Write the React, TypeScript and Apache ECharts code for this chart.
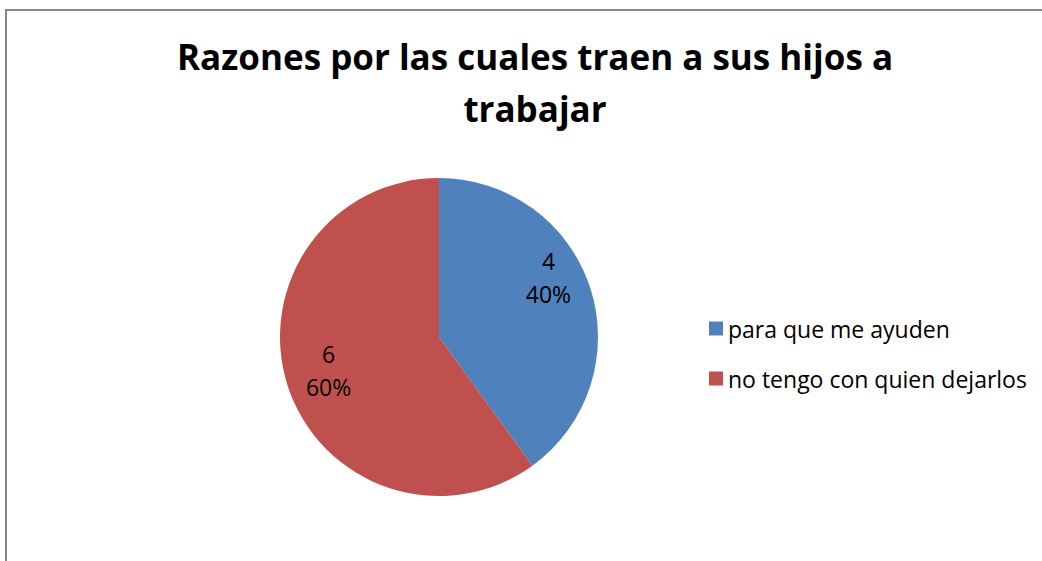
import React, { useEffect, useRef } from "react";
import * as echarts from "echarts";

const titleText = "Razones por las cuales traen a sus hijos a\ntrabajar";
const categories = ["para que me ayuden", "no tengo con quien dejarlos"];
const values = [4, 6];
const colors = ["#4F81BD", "#C0504D"];
const labelShift = [
  [31, -34],
  [-32, 8],
];

export default function App() {
  const ref = useRef<HTMLDivElement>(null);
  useEffect(() => {
    if (!ref.current) return;
    const chart = echarts.init(ref.current, null, { renderer: "svg" });
    chart.setOption({
      animation: false,
      backgroundColor: "#ffffff",
      title: {
        text: titleText,
        left: 530,
        top: 25,
        textAlign: "center",
        textStyle: {
          fontFamily: "Open Sans",
          fontWeight: "bold",
          fontSize: 35,
          lineHeight: 52,
          color: "#000000",
        },
      },
      legend: {
        orient: "vertical",
        left: 704,
        top: 312,
        itemWidth: 14,
        itemHeight: 14,
        itemGap: 27,
        icon: "rect",
        data: categories,
        textStyle: { fontFamily: "Open Sans", fontSize: 23, color: "#000000" },
      },
      graphic: [
        {
          type: "polyline",
          shape: { points: [[6, 561], [6, 10], [1042, 10]] },
          style: { stroke: "#878787", lineWidth: 2, fill: "none" },
          silent: true,
        },
      ],
      series: [
        {
          type: "pie",
          center: [439, 337],
          radius: [0, 159],
          startAngle: 90,
          clockwise: true,
          data: categories.map((n, i) => ({
            name: n,
            value: values[i],
            itemStyle: { color: colors[i] },
          })),
          label: {
            show: true,
            position: "inside",
            formatter: "{c}\n{d}%",
            fontFamily: "Open Sans",
            fontSize: 23,
            lineHeight: 33,
            color: "#000000",
            align: "center",
          },
          labelLine: { show: false },
          labelLayout: (p: any) => ({
            dx: labelShift[p.dataIndex][0],
            dy: labelShift[p.dataIndex][1],
          }),
          emphasis: { disabled: true },
        },
      ],
    });
    return () => chart.dispose();
  }, []);
  return (
    <div
      ref={ref}
      style={{ position: "absolute", left: 0, top: 0, width: 1042, height: 561 }}
    />
  );
}
